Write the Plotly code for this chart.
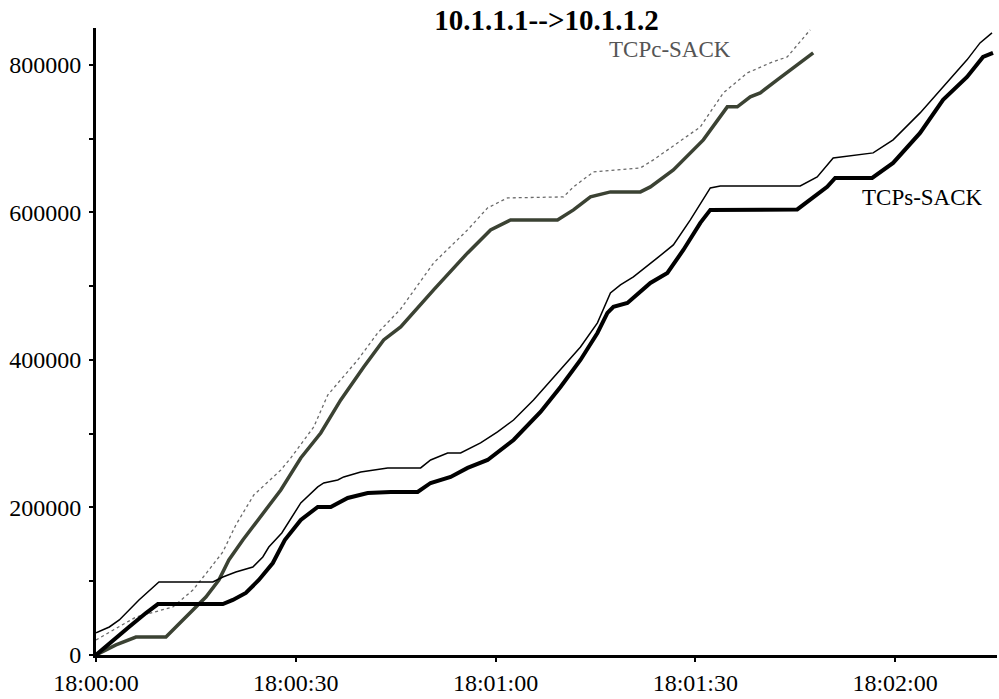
import plotly.graph_objects as go

# ---- data (seconds since 18:00:00, bytes) ----
s_upper_t = [0, 2.0, 3.5, 6.45, 9.45, 17.55, 19.05, 21.0, 23.55, 25.05, 25.95, 27.9, 30.75, 33.3, 34.2, 36.3, 37.2,
             39.75, 43.8, 48.75, 50.25, 52.8, 54.75, 57.75, 60.3, 62.7, 65.7, 69.75, 72.75, 75.3, 76.8, 77.25, 78.75,
             80.7, 84.3, 86.7, 89.25, 91.2, 92.25, 93.75, 105.75, 108.3, 110.7, 116.7, 119.7, 123.75, 127.2, 130.8,
             132.75, 134.55]
s_upper_v = [30000, 38000, 47500, 74600, 99000, 99000, 105800, 112500, 119300, 132900, 146400, 165400, 206100, 227800,
             233200, 237300, 241400, 248100, 253600, 253600, 264400, 273900, 273900, 287500, 302400, 318600, 345800,
             386400, 417600, 450200, 481400, 490900, 501700, 512500, 538300, 556000, 589800, 617000, 633200, 635900,
             635900, 648100, 673900, 680700, 698300, 734900, 770200, 806800, 829800, 843400]

s_data_t = [0, 2.55, 4.95, 7.5, 9.3, 19.05, 20.55, 22.5, 24.45, 26.55, 28.35, 30.75, 33.3, 35.25, 37.8, 40.8, 44.25,
            48.3, 50.25, 53.25, 55.8, 58.8, 62.7, 66.75, 69.75, 72.75, 75.3, 76.8, 77.7, 79.8, 83.25, 85.8, 88.2,
            90.75, 92.25, 105.3, 107.25, 109.8, 111.0, 116.55, 119.7, 123.75, 127.2, 130.8, 133.2, 134.7]
s_data_v = [0, 20300, 38000, 56900, 69000, 69000, 74600, 84100, 101700, 124700, 155900, 183100, 200700, 200700,
            212900, 219700, 221000, 221000, 233200, 241400, 253600, 264400, 291500, 329500, 363400, 400000, 436600,
            463700, 471900, 477300, 504400, 518000, 549100, 585800, 603400, 604000, 617000, 634600, 646800, 646800,
            667100, 707800, 752500, 783700, 810800, 816300]

c_upper_t = [0, 6.0, 11.55, 14.55, 16.95, 19.05, 21.0, 23.7, 27.75, 29.25, 32.7, 34.8, 39.3, 42.3, 45.75, 50.7, 55.8,
             58.8, 61.8, 70.2, 71.7, 74.7, 81.75, 83.7, 90.75, 94.2, 97.8, 101.25, 103.8, 107.25]
c_upper_v = [20300, 51500, 65100, 88100, 115300, 139700, 176300, 217000, 250800, 267100, 309200, 352500, 400000,
             436600, 469100, 531500, 576300, 606100, 619700, 621000, 634600, 654900, 660300, 671200, 715900, 762000,
             789100, 802700, 810800, 847500]

c_data_t = [0, 3.0, 6.0, 10.5, 12.0, 14.55, 16.5, 18.45, 19.95, 22.05, 27.75, 30.75, 33.75, 36.75, 40.2, 43.2, 45.75,
            50.7, 55.8, 59.25, 62.25, 69.3, 71.7, 74.25, 77.25, 81.75, 83.25, 86.7, 88.2, 91.2, 94.8, 96.3, 98.25,
            99.75, 102.3, 107.7]
c_data_v = [0, 13600, 24400, 24400, 38000, 61000, 78600, 101700, 128800, 155900, 223700, 267100, 301000, 345800,
            390500, 427100, 444700, 494900, 545100, 576300, 589800, 589800, 603400, 621000, 627800, 627800, 634600,
            657600, 671200, 698300, 743100, 743100, 756600, 762000, 779700, 816300]

x_tickvals = [0, 30, 60, 90, 120]
x_ticktext = ["18:00:00", "18:00:30", "18:01:00", "18:01:30", "18:02:00"]
y_tickvals = [0, 200000, 400000, 600000, 800000]
y_ticktext = ["0", "200000", "400000", "600000", "800000"]
y_minor_vals = [100000, 300000, 500000, 700000]

title_text = "10.1.1.1-->10.1.1.2"
label_c = "TCPc-SACK"
label_s = "TCPs-SACK"

FONT = "Liberation Serif"

fig = go.Figure()
fig.add_trace(go.Scatter(x=c_upper_t, y=c_upper_v, mode="lines",
                         line=dict(color="#6a6a6a", width=1.3, dash="dot"), showlegend=False))
fig.add_trace(go.Scatter(x=c_data_t, y=c_data_v, mode="lines",
                         line=dict(color="#3b4233", width=3.5), showlegend=False))
fig.add_trace(go.Scatter(x=s_upper_t, y=s_upper_v, mode="lines",
                         line=dict(color="black", width=1.5), showlegend=False))
fig.add_trace(go.Scatter(x=s_data_t, y=s_data_v, mode="lines",
                         line=dict(color="black", width=4), showlegend=False))

fig.add_annotation(x=76.8, y=820400, text=label_c, showarrow=False, xanchor="left", yanchor="middle",
                   font=dict(family=FONT, size=23, color="#555555"))
fig.add_annotation(x=114.75, y=619700, text=label_s, showarrow=False, xanchor="left", yanchor="middle",
                   font=dict(family=FONT, size=23, color="black"))

fig.update_layout(
    width=999, height=699,
    margin=dict(l=96, r=2, t=28, b=44),
    paper_bgcolor="white", plot_bgcolor="white",
    title=dict(text="<b>" + title_text + "</b>", x=0.5, xref="paper", xanchor="center",
               y=1 - 20 / 699, yref="container", yanchor="middle",
               font=dict(family=FONT, size=29, color="black")),
    font=dict(family=FONT, size=24, color="black"),
)
fig.update_xaxes(range=[0, 135.3], showgrid=False, zeroline=False, showline=True, linecolor="black", linewidth=3,
                 ticks="outside", ticklen=4, tickwidth=2, tickcolor="black",
                 tickvals=x_tickvals, ticktext=x_ticktext, tickfont=dict(family=FONT, size=24, color="black"),
                 ticklabelstandoff=0)
fig.update_yaxes(range=[0, 850000], showgrid=False, zeroline=False, showline=True, linecolor="black", linewidth=3,
                 ticks="outside", ticklen=4, tickwidth=2, tickcolor="black",
                 tickvals=y_tickvals, ticktext=y_ticktext, tickfont=dict(family=FONT, size=24, color="black"),
                 ticklabelstandoff=3,
                 minor=dict(tickvals=y_minor_vals, ticks="outside", ticklen=4, tickwidth=2,
                            tickcolor="black"))

fig.write_html("out.html")
